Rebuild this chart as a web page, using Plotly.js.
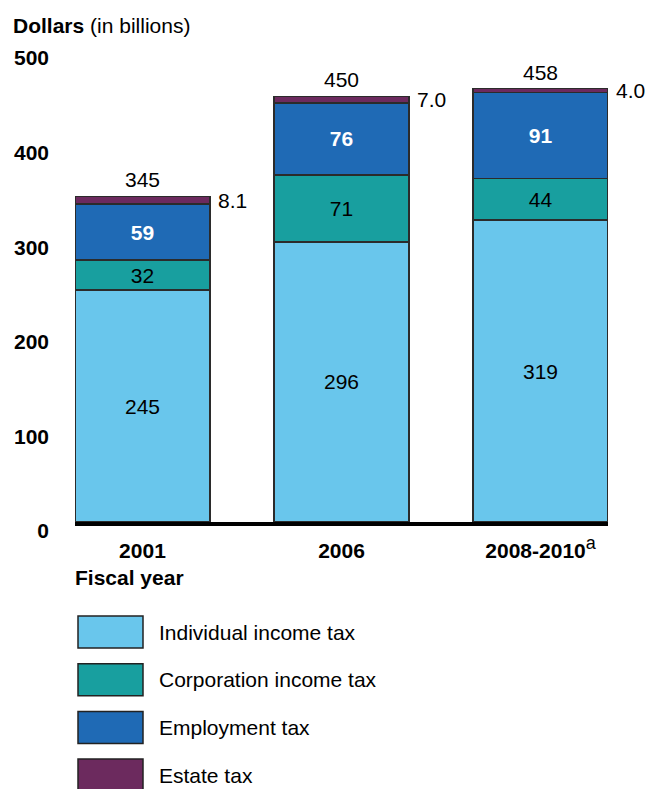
<!DOCTYPE html>
<html>
<head>
<meta charset="utf-8">
<script src="https://cdn.plot.ly/plotly-3.0.1.min.js"></script>
<style>html,body{margin:0;padding:0;background:#fff;}#chart{width:645px;height:789px;}</style>
</head>
<body>
<div id="chart"></div>
<script>
// ---- data ----
const categories = ['2001', '2006', '2008-2010'];
const tickLabels = ['<b>2001</b>', '<b>2006</b>', '<b>2008-2010</b><sup><span style="font-size:18px">a</span></sup>'];
const individual = [245, 296, 319];
const corporation = [32, 71, 44];
const employment = [59, 76, 91];
const estate = [8.1, 7.0, 4.0];
const totals = [345, 450, 458];
const yTicks = [0, 100, 200, 300, 400, 500];
const seriesNames = ['Individual income tax', 'Corporation income tax', 'Employment tax', 'Estate tax'];
const seriesColors = ['#69C6EC', '#189F9F', '#1F6AB5', '#6C2A5E'];

// ---- layout helpers ----
const W = 645, H = 789;
const M = {l: 75, r: 37, t: 49, b: 267};
const PW = W - M.l - M.r, PH = H - M.t - M.b;
const px = x => (x - M.l) / PW;
const py = y => (H - M.b - y) / PH;
const FONT = 'Liberation Sans, Arial, sans-serif';
const FS = 21;
const barWidth = 0.678;
const edge = {color: '#2b2b2b', width: 1.5};

const seriesValues = [individual, corporation, employment, estate];
const textStyles = [
  {tpl: '%{y}', color: '#000'},
  {tpl: '%{y}', color: '#000'},
  {tpl: '<b>%{y}</b>', color: '#fff'},
  {tpl: '', color: '#000'}
];

const traces = seriesValues.map((vals, i) => ({
  type: 'bar',
  name: seriesNames[i],
  x: categories,
  y: vals,
  width: barWidth,
  marker: {color: seriesColors[i], line: edge},
  texttemplate: textStyles[i].tpl,
  textposition: textStyles[i].tpl ? 'inside' : 'none',
  insidetextanchor: 'middle',
  constraintext: 'none',
  textangle: 0,
  textfont: {family: FONT, size: FS, color: textStyles[i].color},
  hoverinfo: 'skip'
}));

const annotations = [];
categories.forEach((c, k) => {
  const stackTop = individual[k] + corporation[k] + employment[k] + estate[k];
  annotations.push({
    x: k, y: stackTop, xref: 'x', yref: 'y',
    text: String(totals[k]), showarrow: false,
    xanchor: 'center', yanchor: 'bottom', yshift: 3,
    font: {family: FONT, size: FS, color: '#000'}
  });
  annotations.push({
    x: k + barWidth / 2, y: stackTop - estate[k] / 2, xref: 'x', yref: 'y',
    text: estate[k].toFixed(1), showarrow: false,
    xanchor: 'left', yanchor: 'middle', xshift: 6,
    font: {family: FONT, size: FS, color: '#000'}
  });
});

annotations.push({
  xref: 'paper', yref: 'paper', x: px(11), y: py(25),
  xanchor: 'left', yanchor: 'middle', showarrow: false,
  text: '<b>Dollars</b> (in billions)',
  font: {family: FONT, size: FS, color: '#000'}
});
annotations.push({
  xref: 'paper', yref: 'paper', x: px(73), y: py(577),
  xanchor: 'left', yanchor: 'middle', showarrow: false,
  text: '<b>Fiscal year</b>',
  font: {family: FONT, size: FS, color: '#000'}
});

const shapes = [];
seriesNames.forEach((name, i) => {
  const cy = 632 + i * 47.7;
  shapes.push({
    type: 'rect', xref: 'paper', yref: 'paper',
    x0: px(78), x1: px(143), y0: py(cy - 16), y1: py(cy + 16),
    fillcolor: seriesColors[i], line: {color: '#222', width: 1.5}
  });
  annotations.push({
    xref: 'paper', yref: 'paper', x: px(157), y: py(cy),
    xanchor: 'left', yanchor: 'middle', showarrow: false,
    text: name, font: {family: FONT, size: FS, color: '#000'}
  });
});

const layout = {
  width: W, height: H,
  margin: M,
  barmode: 'stack',
  showlegend: false,
  paper_bgcolor: '#fff', plot_bgcolor: '#fff',
  xaxis: {
    type: 'category',
    range: [-barWidth / 2, categories.length - 1 + barWidth / 2],
    tickvals: categories, ticktext: tickLabels,
    ticks: '', showline: true, linecolor: '#000', linewidth: 4,
    showgrid: false, zeroline: false,
    tickfont: {family: FONT, size: FS, color: '#000'},
    ticklabelstandoff: 7
  },
  yaxis: {
    range: [0, 500],
    tickvals: yTicks, ticktext: yTicks.map(v => '<b>' + v + '</b>'),
    ticks: '', showline: false, showgrid: false, zeroline: false,
    tickfont: {family: FONT, size: FS, color: '#000'},
    ticklabelstandoff: 25,
    ticklabelshift: 9
  },
  annotations: annotations,
  shapes: shapes
};

Plotly.newPlot('chart', traces, layout, {displayModeBar: false, staticPlot: true});
</script>
</body>
</html>
